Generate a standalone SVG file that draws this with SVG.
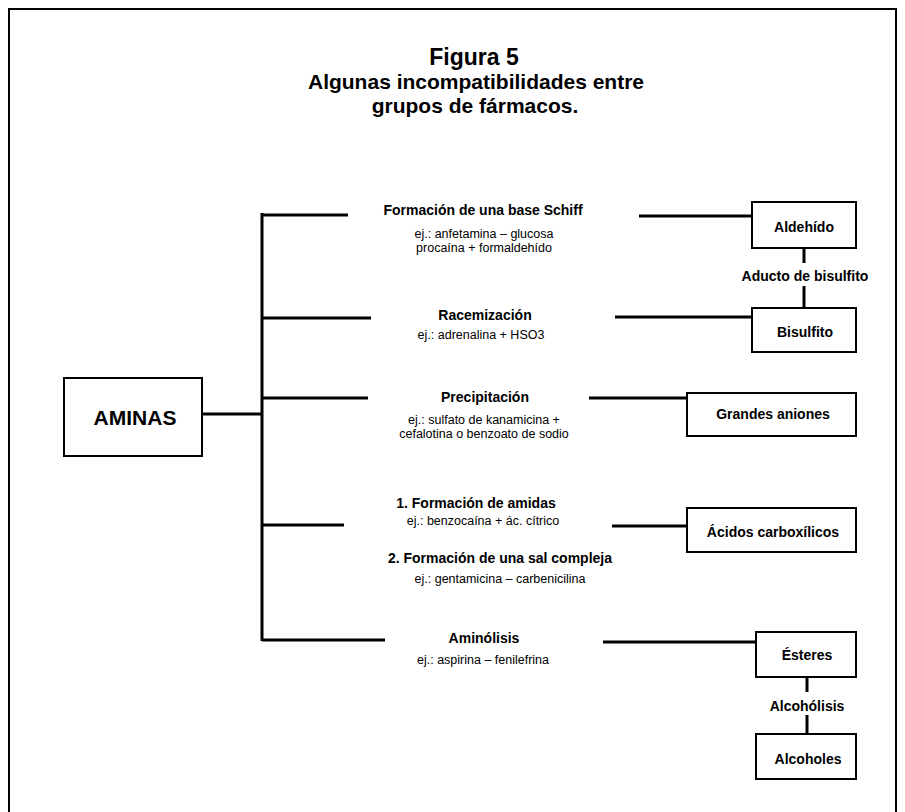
<svg xmlns="http://www.w3.org/2000/svg" width="905" height="812" viewBox="0 0 905 812">
<style>
text{font-family:"Liberation Sans",Arial,sans-serif;fill:#000;text-anchor:middle}
.t{font-weight:bold;font-size:21px}
.b{font-weight:bold;font-size:14px}
.e{font-size:12.5px}
.n{font-weight:bold;font-size:14px}
.box{fill:#fff;stroke:#000;stroke-width:2}
.ln{stroke:#000;stroke-width:3;fill:none}
</style>
<rect width="905" height="812" fill="#fff"/>
<path d="M9,812 V9 H896 V812" fill="none" stroke="#000" stroke-width="2"/>
<g id="title">
<text class="t" x="474" y="65" style="font-size:23px">Figura 5</text>
<text class="t" x="476" y="89">Algunas incompatibilidades entre</text>
<text class="t" x="475" y="113">grupos de fármacos.</text>
</g>
<g id="connectors">
<line class="ln" x1="202" y1="414" x2="262" y2="414"/>
<line class="ln" x1="262" y1="213" x2="262" y2="641"/>
<line class="ln" x1="262" y1="215" x2="348" y2="215"/>
<line class="ln" x1="262" y1="318" x2="371" y2="318"/>
<line class="ln" x1="262" y1="398" x2="368" y2="398"/>
<line class="ln" x1="262" y1="525" x2="344" y2="525"/>
<line class="ln" x1="262" y1="640" x2="385" y2="640"/>
<line class="ln" x1="639" y1="216" x2="751" y2="216"/>
<line class="ln" x1="615" y1="317" x2="751" y2="317"/>
<line class="ln" x1="589" y1="398" x2="686" y2="398"/>
<line class="ln" x1="612" y1="526" x2="686" y2="526"/>
<line class="ln" x1="603" y1="642" x2="755" y2="642"/>
<line class="ln" x1="804" y1="249" x2="804" y2="263"/>
<line class="ln" x1="804" y1="286" x2="804" y2="307"/>
<line class="ln" x1="807" y1="678" x2="807" y2="692"/>
<line class="ln" x1="807" y1="715" x2="807" y2="733"/>
</g>
<g id="aminas">
<rect class="box" x="64" y="378" width="138" height="78"/>
<text class="n" x="135" y="425" style="font-size:21px">AMINAS</text>
</g>
<g id="schiff">
<text class="b" x="483" y="215">Formación de una base Schiff</text>
<text class="e" x="484" y="238">ej.: anfetamina – glucosa</text>
<text class="e" x="484" y="252">procaína + formaldehído</text>
</g>
<g id="racemizacion">
<text class="b" x="485" y="320">Racemización</text>
<text class="e" x="481" y="339">ej.: adrenalina + HSO3</text>
</g>
<g id="precipitacion">
<text class="b" x="485" y="402">Precipitación</text>
<text class="e" x="484" y="424">ej.: sulfato de kanamicina +</text>
<text class="e" x="484" y="438">cefalotina o benzoato de sodio</text>
</g>
<g id="amidas">
<text class="b" x="476" y="508">1. Formación de amidas</text>
<text class="e" x="483" y="525">ej.: benzocaína + ác. cítrico</text>
<text class="b" x="500" y="563">2. Formación de una sal compleja</text>
<text class="e" x="500" y="583">ej.: gentamicina – carbenicilina</text>
</g>
<g id="aminolisis">
<text class="b" x="484" y="643">Aminólisis</text>
<text class="e" x="483" y="664">ej.: aspirina – fenilefrina</text>
</g>
<g id="aldehido">
<rect class="box" x="752" y="202" width="104" height="46"/>
<text class="n" x="804" y="232">Aldehído</text>
</g>
<g id="aducto">
<text class="n" x="805" y="281">Aducto de bisulfito</text>
</g>
<g id="bisulfito">
<rect class="box" x="752" y="308" width="104" height="44"/>
<text class="n" x="805" y="337">Bisulfito</text>
</g>
<g id="aniones">
<rect class="box" x="687" y="393" width="169" height="43"/>
<text class="n" x="773" y="419">Grandes aniones</text>
</g>
<g id="acidos">
<rect class="box" x="687" y="508" width="169" height="44"/>
<text class="n" x="773" y="537">Ácidos carboxílicos</text>
</g>
<g id="esteres">
<rect class="box" x="756" y="632" width="100" height="45"/>
<text class="n" x="807" y="660">Ésteres</text>
</g>
<g id="alcoholisis">
<text class="n" x="807" y="711">Alcohólisis</text>
</g>
<g id="alcoholes">
<rect class="box" x="756" y="734" width="100" height="45"/>
<text class="n" x="808" y="764">Alcoholes</text>
</g>
</svg>
